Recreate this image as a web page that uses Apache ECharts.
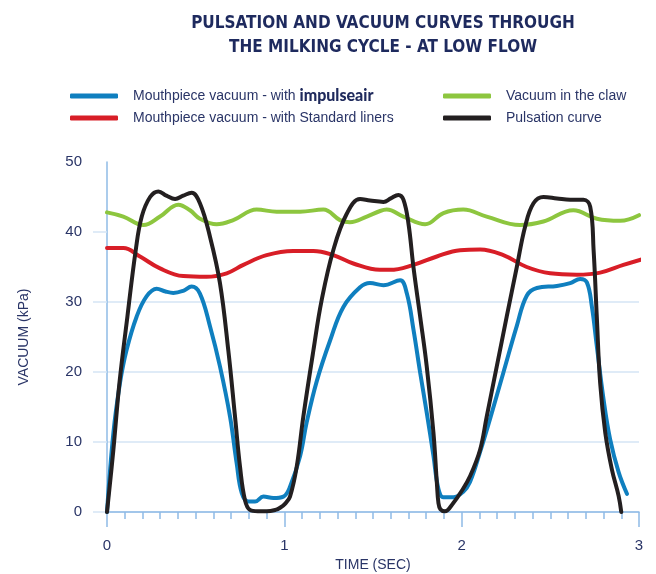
<!DOCTYPE html>
<html>
<head>
<meta charset="utf-8">
<script src="https://cdn.jsdelivr.net/npm/echarts@6/dist/echarts.min.js"></script>
<style>
  html, body { margin: 0; padding: 0; background: #fff; }
  #chart { width: 656px; height: 574px; }
</style>
</head>
<body>
<div id="chart"></div>
<script>
// 脉动曲线 (black)
const pulsationTime = [0, 0.036, 0.07, 0.115, 0.162, 0.196, 0.243, 0.29, 0.335, 0.384, 0.43, 0.477, 0.524, 0.581, 0.637, 0.684, 0.722, 0.75, 0.778, 0.806, 0.85, 0.9, 0.95, 0.976, 1.005, 1.032, 1.07, 1.107, 1.164, 1.21, 1.276, 1.352, 1.427, 1.483, 1.559, 1.6, 1.643, 1.672, 1.7, 1.728, 1.766, 1.803, 1.841, 1.86, 1.869, 1.88, 1.906, 1.953, 2.0, 2.047, 2.104, 2.141, 2.198, 2.254, 2.311, 2.358, 2.405, 2.461, 2.537, 2.612, 2.687, 2.725, 2.744, 2.762, 2.781, 2.81, 2.847, 2.885, 2.9]
const pulsationVac = [0, 8.9, 18.4, 27.9, 37.4, 42.2, 45.0, 45.8, 45.2, 44.7, 45.2, 45.6, 44.1, 39.3, 32.7, 23.1, 13.6, 6.5, 1.7, 0.3, 0.1, 0.1, 0.3, 0.6, 1.2, 2.2, 6.5, 13.6, 23.1, 30.2, 37.4, 42.6, 44.7, 44.5, 44.3, 44.8, 45.3, 44.6, 41.2, 35.0, 27.9, 20.8, 11.3, 4.2, 1.3, 0.4, 0.1, 1.3, 3.0, 5.1, 8.9, 13.6, 20.8, 27.9, 35.0, 40.8, 44.1, 45.0, 44.8, 44.6, 44.6, 43.6, 37.4, 27.9, 18.4, 11.3, 6.1, 2.3, 0]

// 口腔真空 - impulseAir (blue)
const impulseTime = [0, 0.036, 0.073, 0.11, 0.167, 0.223, 0.28, 0.33, 0.374, 0.43, 0.477, 0.524, 0.581, 0.637, 0.694, 0.731, 0.76, 0.797, 0.835, 0.882, 0.938, 0.995, 1.032, 1.089, 1.126, 1.183, 1.258, 1.333, 1.427, 1.483, 1.559, 1.653, 1.691, 1.728, 1.766, 1.803, 1.841, 1.869, 1.897, 1.953, 2.009, 2.047, 2.104, 2.16, 2.235, 2.311, 2.367, 2.424, 2.537, 2.612, 2.668, 2.706, 2.734, 2.762, 2.8, 2.837, 2.885, 2.932]
const impulseVac = [0, 11.3, 18.4, 23.1, 27.9, 30.8, 31.9, 31.5, 31.3, 31.6, 32.2, 31.2, 26.5, 20.8, 13.6, 7.0, 2.7, 1.5, 1.5, 2.2, 2.0, 2.2, 3.6, 8.0, 12.8, 18.7, 24.5, 29.3, 32.1, 32.7, 32.4, 33.1, 31.2, 26.1, 19.9, 14.2, 8.0, 3.3, 2.1, 2.1, 2.9, 4.3, 8.6, 13.3, 19.9, 26.6, 30.9, 32.0, 32.3, 32.7, 33.3, 32.8, 29.4, 23.7, 16.1, 10.4, 5.7, 2.6]

// 口腔真空 - 标准内衬 (red)
const standardTime = [0, 0.092, 0.186, 0.299, 0.43, 0.562, 0.675, 0.769, 0.9, 1.05, 1.164, 1.276, 1.389, 1.539, 1.596, 1.728, 1.86, 1.991, 2.104, 2.235, 2.367, 2.499, 2.649, 2.781, 2.912, 3.043]
const standardVac = [37.7, 37.7, 36.5, 34.8, 33.7, 33.6, 34.1, 35.3, 36.7, 37.3, 37.3, 36.7, 35.5, 34.6, 34.6, 35.3, 36.5, 37.4, 37.5, 36.7, 35.0, 34.1, 33.9, 34.2, 35.3, 36.3]

// 集乳器真空 (green)
const clawTime = [0, 0.092, 0.205, 0.299, 0.402, 0.468, 0.524, 0.618, 0.712, 0.844, 0.957, 1.089, 1.22, 1.314, 1.37, 1.465, 1.54, 1.577, 1.672, 1.794, 1.897, 2.009, 2.141, 2.329, 2.461, 2.63, 2.762, 2.894, 3.0]
const clawVac = [42.8, 42.2, 41.0, 42.2, 43.9, 43.1, 41.9, 41.1, 41.7, 43.2, 42.9, 42.9, 43.2, 41.7, 41.4, 42.2, 43.0, 43.2, 42.2, 41.1, 42.7, 43.2, 42.2, 41.0, 41.5, 43.1, 41.9, 41.6, 42.4]

const xTicks = [0, 1, 2, 3]
const yTicks = [0, 10, 20, 30, 40, 50]

const NAME_IMPULSE = 'Mouthpiece vacuum - with impulseair'
const NAME_STANDARD = 'Mouthpiece vacuum - with Standard liners'
const NAME_CLAW = 'Vacuum in the claw'
const NAME_PULSE = 'Pulsation curve'

const textColor = '#2a3567'
const axisColor = '#8fbbe6'
const gridColor = '#d5e5f5'
const labelFont = 'Liberation Sans, Arial, sans-serif'

function zip(t, v) {
  return t.map((x, i) => [x, v[i]])
}

function makeLine(name, t, v, color, z) {
  return {
    name,
    type: 'line',
    data: zip(t, v),
    smooth: 0.4,
    showSymbol: false,
    clip: false,
    z,
    lineStyle: { color, width: 4, cap: 'round' },
    itemStyle: { color }
  }
}

const legendText = {
  fontFamily: labelFont,
  fontSize: 14,
  color: textColor,
  lineHeight: 16,
  padding: [0, 0, 0, 10],
  rich: {
    a: { fontFamily: labelFont, fontSize: 14, color: textColor },
    b: { fontFamily: 'Lato, Noto Sans, sans-serif', fontSize: 16, fontWeight: 900, color: '#1f2a5c' }
  }
}

const legendBase = {
  orient: 'vertical',
  top: 83,
  itemWidth: 48,
  itemHeight: 5,
  itemGap: 6,
  icon: 'roundRect',
  textStyle: legendText
}

const chart = echarts.init(document.getElementById('chart'))
chart.setOption({
  animation: false,
  title: {
    text: 'PULSATION AND VACUUM CURVES THROUGH\nTHE MILKING CYCLE - AT LOW FLOW',
    left: 378,
    top: 7,
    textAlign: 'center',
    textStyle: {
      fontFamily: 'Liberation Sans Narrow, DejaVu Sans Condensed, sans-serif',
      fontSize: 17,
      fontWeight: 'bold',
      lineHeight: 24,
      color: '#1e2a5e'
    }
  },
  legend: [
    Object.assign({}, legendBase, {
      data: [NAME_IMPULSE, NAME_STANDARD],
      left: 65,
      formatter: n => n === NAME_IMPULSE ? '{a|Mouthpiece vacuum - with }{b|impulseair}' : n
    }),
    Object.assign({}, legendBase, {
      data: [NAME_CLAW, NAME_PULSE],
      left: 438
    })
  ],
  grid: { left: 107, right: 17, top: 162, bottom: 62, outerBoundsMode: 'none' },
  xAxis: {
    type: 'value',
    min: xTicks[0],
    max: xTicks[xTicks.length - 1],
    interval: 1,
    name: 'TIME (SEC)',
    nameLocation: 'middle',
    nameGap: 46,
    nameTextStyle: { fontFamily: labelFont, fontSize: 14, color: textColor },
    axisLine: { show: true, lineStyle: { color: axisColor, width: 1.5 } },
    axisTick: { show: true, length: 15, lineStyle: { color: axisColor, width: 1.5 } },
    minorTick: { show: true, splitNumber: 10, length: 7, lineStyle: { color: axisColor, width: 1.5 } },
    splitLine: { show: false },
    axisLabel: { margin: 26, fontFamily: labelFont, fontSize: 15, color: textColor }
  },
  yAxis: {
    type: 'value',
    min: yTicks[0],
    max: yTicks[yTicks.length - 1],
    interval: 10,
    name: 'VACUUM (kPa)',
    nameLocation: 'middle',
    nameGap: 76,
    nameTextStyle: { fontFamily: labelFont, fontSize: 14, color: textColor },
    axisLine: { show: true, lineStyle: { color: axisColor, width: 1.5 } },
    axisTick: { show: true, length: 14, customValues: yTicks.slice(0, -1), lineStyle: { color: gridColor, width: 1.5 } },
    splitLine: { show: true, showMaxLine: false, lineStyle: { color: gridColor, width: 1.5 } },
    axisLabel: { margin: 25, fontFamily: labelFont, fontSize: 15, color: textColor }
  },
  series: [
    makeLine(NAME_CLAW, clawTime, clawVac, '#8dc63f', 2),
    makeLine(NAME_STANDARD, standardTime, standardVac, '#d81e27', 3),
    makeLine(NAME_IMPULSE, impulseTime, impulseVac, '#0f7fbf', 4),
    makeLine(NAME_PULSE, pulsationTime, pulsationVac, '#231f20', 5)
  ]
})
</script>
</body>
</html>
